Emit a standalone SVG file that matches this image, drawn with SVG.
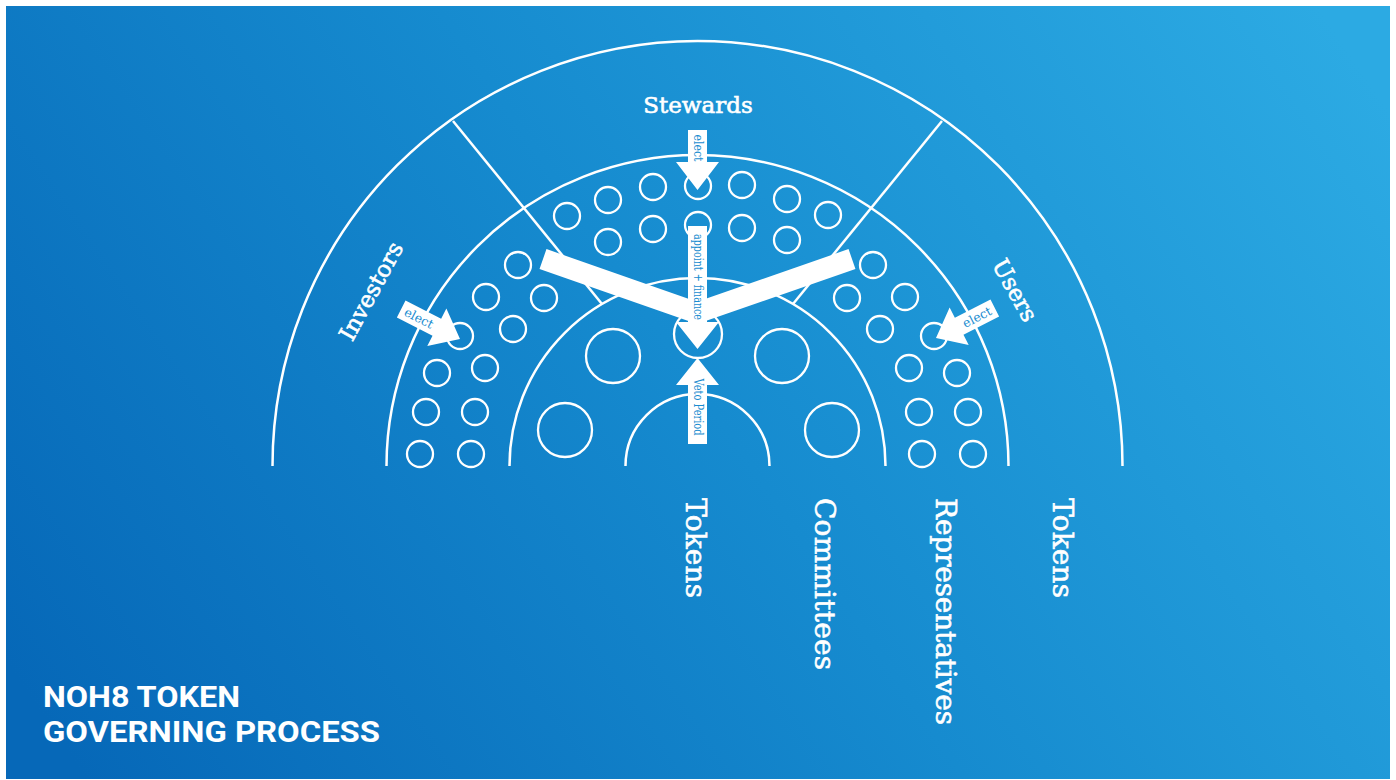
<svg xmlns="http://www.w3.org/2000/svg" width="1396" height="780" viewBox="0 0 1396 780">
<defs>
<linearGradient id="bg" gradientUnits="userSpaceOnUse" x1="100" y1="800" x2="1300" y2="-20">
<stop offset="0" stop-color="#0668b8"/>
<stop offset="0.5" stop-color="#168bcf"/>
<stop offset="1" stop-color="#2caae3"/>
</linearGradient>
<path id="sidearrow" d="M-66,-9.5 L-26,-9.5 L-26,-21 L0,0 L-26,21 L-26,9.5 L-66,9.5 Z"/>
</defs>
<style>
.ln{fill:none;stroke:#fff;stroke-width:2.5}
.c{fill:none;stroke:#fff;stroke-width:2.3}
.w{fill:#fff}
.lbl{font-family:"DejaVu Serif","Liberation Serif",serif;fill:#fff;stroke:#fff;stroke-width:0.6}
.al{font-family:"DejaVu Serif","Liberation Serif",serif;fill:#1a8dd0;font-size:12.5px}
.title{font-family:Roboto,"Liberation Sans",sans-serif;font-weight:bold;fill:#fff;font-size:30px}
</style>
<rect width="1396" height="780" fill="#fff"/>
<rect x="6" y="6" width="1384" height="773" fill="url(#bg)"/>

<g id="rings">
<path class="ln" d="M272.5,466 A425,425 0 0 1 1122.5,466"/>
<path class="ln" d="M386.5,466 A311,311 0 0 1 1008.5,466"/>
<path class="ln" d="M509.5,466 A188,188 0 0 1 885.5,466"/>
<path class="ln" d="M625.5,466 A72,72 0 0 1 769.5,466"/>
<line class="ln" x1="453" y1="121" x2="602" y2="304"/>
<line class="ln" x1="942" y1="121" x2="793" y2="304"/>
</g>

<g id="representatives">
<circle class="c" cx="567" cy="216" r="13"/>
<circle class="c" cx="608" cy="200" r="13"/>
<circle class="c" cx="653" cy="187" r="13"/>
<circle class="c" cx="698" cy="186" r="13"/>
<circle class="c" cx="742" cy="185" r="13"/>
<circle class="c" cx="787" cy="199" r="13"/>
<circle class="c" cx="828" cy="215" r="13"/>
<circle class="c" cx="608" cy="242" r="13"/>
<circle class="c" cx="653" cy="229" r="13"/>
<circle class="c" cx="698" cy="225" r="13"/>
<circle class="c" cx="742" cy="228" r="13"/>
<circle class="c" cx="787" cy="240" r="13"/>
<circle class="c" cx="518" cy="265" r="13"/>
<circle class="c" cx="486" cy="297" r="13"/>
<circle class="c" cx="544" cy="298" r="13"/>
<circle class="c" cx="513" cy="329" r="13"/>
<circle class="c" cx="460" cy="336" r="13"/>
<circle class="c" cx="437" cy="373" r="13"/>
<circle class="c" cx="485" cy="368" r="13"/>
<circle class="c" cx="426" cy="412" r="13"/>
<circle class="c" cx="475" cy="412" r="13"/>
<circle class="c" cx="420" cy="454" r="13"/>
<circle class="c" cx="471" cy="454" r="13"/>
<circle class="c" cx="873" cy="265" r="13"/>
<circle class="c" cx="905" cy="297" r="13"/>
<circle class="c" cx="847" cy="298" r="13"/>
<circle class="c" cx="880" cy="329" r="13"/>
<circle class="c" cx="934" cy="336" r="13"/>
<circle class="c" cx="957" cy="373" r="13"/>
<circle class="c" cx="909" cy="368" r="13"/>
<circle class="c" cx="968" cy="412" r="13"/>
<circle class="c" cx="919" cy="412" r="13"/>
<circle class="c" cx="973" cy="454" r="13"/>
<circle class="c" cx="922" cy="454" r="13"/>
</g>

<g id="committees">
<circle class="c" cx="613" cy="356" r="27"/>
<circle class="c" cx="565" cy="430" r="27"/>
<circle class="c" cx="782" cy="356" r="27"/>
<circle class="c" cx="832" cy="430" r="27"/>
<circle class="c" cx="698" cy="334" r="24"/>
</g>

<g id="connectors">
<polyline points="543,259 697,313 852,259" fill="none" stroke="#fff" stroke-width="21" stroke-linejoin="miter"/>
<g id="arrow-appoint">
<path class="w" d="M688,226 L707,226 L707,322 L719,322 L697.5,349 L676,322 L688,322 Z"/>
<text class="al" transform="translate(693.5,277) rotate(90)" text-anchor="middle" textLength="86" lengthAdjust="spacingAndGlyphs">appoint + finance</text>
</g>
<g id="arrow-veto">
<path class="w" d="M697.5,358 L719,385 L707,385 L707,444 L688,444 L688,385 L676,385 Z"/>
<text class="al" transform="translate(693.5,407) rotate(90)" text-anchor="middle" textLength="57" lengthAdjust="spacingAndGlyphs">Veto Period</text>
</g>
<g id="arrow-elect-top">
<path class="w" d="M688,130 L707,130 L707,162 L719,162 L697.5,190 L676,162 L688,162 Z"/>
<text class="al" transform="translate(693.5,148) rotate(90)" text-anchor="middle" textLength="27" lengthAdjust="spacingAndGlyphs">elect</text>
</g>
<g id="arrow-elect-left">
<use href="#sidearrow" class="w" transform="translate(460,339) rotate(27)"/>
<text class="al" transform="translate(419,318) rotate(27)" text-anchor="middle" dominant-baseline="central">elect</text>
</g>
<g id="arrow-elect-right">
<use href="#sidearrow" class="w" transform="translate(936,338) scale(-1,1) rotate(27)"/>
<text class="al" transform="translate(977,317) rotate(-27)" text-anchor="middle" dominant-baseline="central">elect</text>
</g>
</g>

<g id="labels">
<text class="lbl" x="698" y="113" font-size="23" text-anchor="middle">Stewards</text>
<text class="lbl" font-size="23" text-anchor="middle" transform="translate(378,295) rotate(-61.5)">Investors</text>
<text class="lbl" font-size="23" text-anchor="middle" transform="translate(1008,294) rotate(61)">Users</text>
<text class="lbl" font-size="28" transform="translate(686,498) rotate(90)" textLength="100">Tokens</text>
<text class="lbl" font-size="28" transform="translate(815,498) rotate(90)" textLength="172">Committees</text>
<text class="lbl" font-size="28" transform="translate(936,498) rotate(90)" textLength="227">Representatives</text>
<text class="lbl" font-size="28" transform="translate(1053,498) rotate(90)" textLength="100">Tokens</text>
</g>

<g id="title">
<text class="title" x="43" y="707" textLength="197" lengthAdjust="spacingAndGlyphs">NOH8 TOKEN</text>
<text class="title" x="43" y="742" textLength="337" lengthAdjust="spacingAndGlyphs">GOVERNING PROCESS</text>
</g>
</svg>
